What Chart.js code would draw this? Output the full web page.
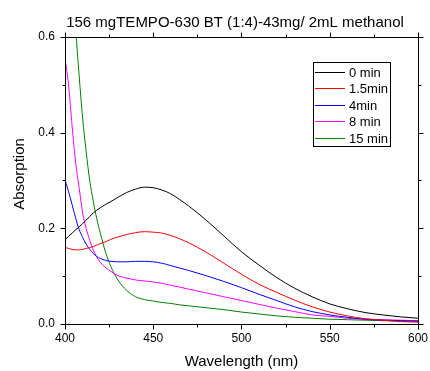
<!DOCTYPE html>
<html><head><meta charset="utf-8">
<script src="https://cdn.jsdelivr.net/npm/chart.js@4.4.0/dist/chart.umd.min.js"></script>
<style>html,body{margin:0;padding:0;background:#fff}canvas{display:block}</style>
</head><body>
<canvas id="c" width="430" height="371"></canvas>
<script>
const titleText = '156 mgTEMPO-630 BT (1:4)-43mg/ 2mL methanol';
const xTitle = 'Wavelength (nm)';
const yTitle = 'Absorption';
const seriesLabels = ['0 min', '1.5min', '4min', '8 min', '15 min'];
const seriesColors = ['#000000', '#ff0000', '#0000ff', '#ff00ff', '#008000'];

const wavelengths = [400,402,404,406,408,410,412,414,416,418,420,423,426,430,435,440,445,450,455,460,465,470,480,490,500,510,520,530,540,550,560,570,580,590,600];
const abs0min  = [0.176,0.183,0.190,0.197,0.203,0.210,0.217,0.225,0.232,0.238,0.243,0.250,0.256,0.265,0.275,0.282,0.286,0.285,0.280,0.272,0.260,0.247,0.217,0.184,0.151,0.123,0.097,0.075,0.057,0.042,0.032,0.024,0.019,0.015,0.012];
const abs1_5min = [0.160,0.158,0.156,0.155,0.155,0.156,0.158,0.160,0.162,0.165,0.168,0.172,0.177,0.182,0.187,0.191,0.193,0.192,0.190,0.185,0.178,0.170,0.150,0.127,0.104,0.083,0.066,0.050,0.036,0.025,0.017,0.011,0.008,0.005,0.004];
const abs4min  = [0.301,0.277,0.250,0.222,0.198,0.181,0.167,0.156,0.148,0.141,0.137,0.133,0.131,0.130,0.130,0.131,0.131,0.130,0.127,0.122,0.117,0.112,0.101,0.089,0.076,0.062,0.049,0.036,0.026,0.019,0.014,0.010,0.008,0.007,0.006];
const abs8min  = [0.555,0.500,0.415,0.338,0.285,0.232,0.200,0.175,0.155,0.140,0.129,0.118,0.110,0.101,0.096,0.092,0.090,0.088,0.085,0.081,0.077,0.073,0.065,0.057,0.049,0.041,0.033,0.026,0.019,0.016,0.012,0.010,0.009,0.008,0.007];
const abs15min = [1.05,0.88,0.74,0.62,0.52,0.43,0.36,0.30,0.257,0.220,0.190,0.150,0.120,0.092,0.070,0.057,0.051,0.048,0.045,0.043,0.040,0.038,0.034,0.030,0.025,0.021,0.017,0.014,0.012,0.010,0.009,0.008,0.007,0.006,0.005];

const xMin = 400, xMax = 600, xMajor = 50, xMinor = 25;
const yMin = 0, yMax = 0.6, yMajor = 0.2, yMinor = 0.1;

const allSeries = [abs0min, abs1_5min, abs4min, abs8min, abs15min];
const FONT = '"Liberation Sans", Arial, sans-serif';

const datasets = allSeries.map((vals, i) => ({
  label: seriesLabels[i],
  data: wavelengths.map((w, j) => ({x: w, y: vals[j]})),
  borderColor: seriesColors[i],
  backgroundColor: seriesColors[i],
  borderWidth: 1,
  pointRadius: 0,
  cubicInterpolationMode: 'monotone',
  fill: false
}));

const framePlugin = {
  id: 'frame',
  afterDraw(chart) {
    const ctx = chart.ctx;
    const a = chart.chartArea;
    const xs = chart.scales.x, ys = chart.scales.y;
    ctx.save();
    ctx.strokeStyle = '#000';
    ctx.lineWidth = 1;
    const L = Math.round(a.left) + 0.5, R = Math.round(a.right) + 0.5;
    const T = Math.round(a.top) + 0.5, B = Math.round(a.bottom) + 0.5;
    ctx.strokeRect(L, T, R - L, B - T);
    ctx.beginPath();
    for (let v = xMin; v <= xMax + 1e-9; v += xMinor) {
      const major = Math.abs(v / xMajor - Math.round(v / xMajor)) < 1e-6;
      const len = major ? 5 : 3;
      const px = Math.round(xs.getPixelForValue(v)) + 0.5;
      ctx.moveTo(px, B); ctx.lineTo(px, B + len);
      ctx.moveTo(px, T); ctx.lineTo(px, T - len);
    }
    for (let k = 0; k <= Math.round((yMax - yMin) / yMinor); k++) {
      const v = yMin + k * yMinor;
      const major = k % Math.round(yMajor / yMinor) === 0;
      const len = major ? 5 : 3;
      const py = Math.round(ys.getPixelForValue(v)) + 0.5;
      ctx.moveTo(L, py); ctx.lineTo(L - len, py);
      ctx.moveTo(R, py); ctx.lineTo(R + len, py);
    }
    ctx.stroke();

    // titles
    ctx.fillStyle = '#000';
    ctx.font = '15px ' + FONT;
    ctx.textAlign = 'center';
    ctx.textBaseline = 'alphabetic';
    ctx.fillText(titleText, 235, 26.5);
    ctx.fillText(xTitle, (a.left + a.right) / 2, 366);
    ctx.save();
    ctx.translate(24, 174);
    ctx.rotate(-Math.PI / 2);
    ctx.fillText(yTitle, 0, 0);
    ctx.restore();

    // legend
    const bx = 313.5, by = 62.5, bw = 77, bh = 84;
    ctx.fillStyle = '#fff';
    ctx.fillRect(bx, by, bw, bh);
    ctx.strokeStyle = '#000';
    ctx.strokeRect(bx, by, bw, bh);
    ctx.font = '13px ' + FONT;
    ctx.textAlign = 'left';
    ctx.textBaseline = 'middle';
    chart.data.datasets.forEach((ds, i) => {
      const cy = Math.round(71.7 + i * 16.5) + 0.5;
      ctx.strokeStyle = ds.borderColor;
      ctx.beginPath();
      ctx.moveTo(315, cy); ctx.lineTo(345, cy);
      ctx.stroke();
      ctx.fillStyle = '#000';
      ctx.fillText(ds.label, 349, cy + 0.5);
    });
    ctx.restore();
  }
};

new Chart(document.getElementById('c'), {
  type: 'line',
  data: { datasets },
  options: {
    responsive: false,
    animation: false,
    devicePixelRatio: 1,
    layout: { padding: { left: 0, right: 12, top: 37, bottom: 0 } },
    plugins: { legend: { display: false }, title: { display: false }, tooltip: { enabled: false } },
    scales: {
      x: {
        type: 'linear', min: xMin, max: xMax,
        grid: { display: false, drawTicks: true, tickLength: 5 },
        border: { display: false },
        ticks: { stepSize: xMajor, color: '#000', font: { size: 12, family: FONT }, padding: 2, maxRotation: 0, autoSkip: false,
                 callback: v => String(v) },
        afterFit: s => { s.height = 47; }
      },
      y: {
        type: 'linear', min: yMin, max: yMax,
        grid: { display: false, drawTicks: true, tickLength: 5 },
        border: { display: false },
        ticks: { stepSize: yMajor, color: '#000', font: { size: 12, family: FONT }, padding: 5,
                 callback: v => Number(v).toFixed(1) },
        afterFit: s => { s.width = 65; }
      }
    }
  },
  plugins: [framePlugin]
});
</script>
</body></html>
